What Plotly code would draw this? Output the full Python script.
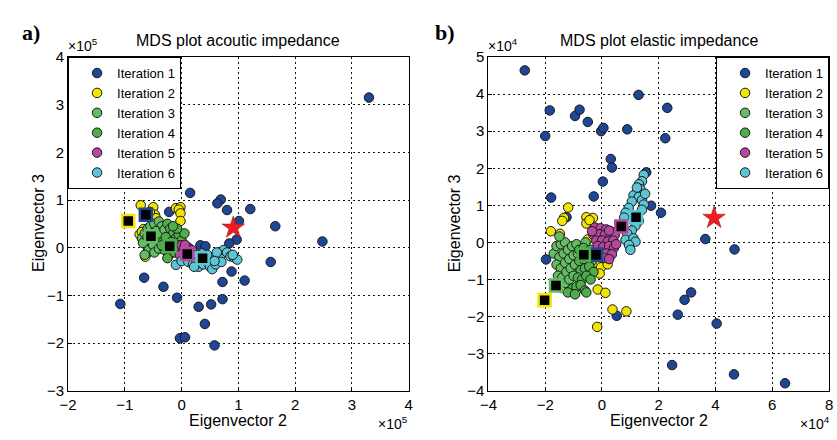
import plotly.graph_objects as go

# ---------------------------------------------------------------------------
# Data: MDS coordinates (Eigenvector 2, Eigenvector 3) per inversion iteration
# Panel a) values are in units of 1e5, panel b) values in units of 1e4
# ---------------------------------------------------------------------------
iterations = ["Iteration 1", "Iteration 2", "Iteration 3", "Iteration 4", "Iteration 5", "Iteration 6"]

# ---- panel a) acoustic impedance (x 1e5) ----
ai_it1_x = [0.15, 0.69, 0.63, 0.80, 1.21, 1.01, 0.97, 0.84, 1.65, 2.48, 3.30, 1.57, 0.88, 1.11, 0.72,
            0.72, 0.52, 0.30, 0.41, 0.58, -0.03, 0.06, -0.08, -0.32, -0.66, -1.08, -0.22, 0.33, 0.42]
ai_it1_y = [1.15, 1.01, 0.93, 0.79, 0.81, 0.56, 0.17, 0.09, 0.45, 0.13, 3.15, -0.30, -0.50, -0.69, -0.72,
            -1.08, -1.19, -1.24, -1.60, -2.05, -1.90, -1.88, -1.05, -0.82, -0.63, -1.18, 0.75, 0.05, 0.03]

ai_it2_x = [-0.72, -0.50, -0.47, -0.52, -0.45, -0.10, -0.02, -0.05, -0.02, -0.02, -0.74, -0.67, -0.70,
            -0.64, -0.60, -0.56]
ai_it2_y = [0.89, 0.85, 0.69, 0.60, 0.62, 0.83, 0.85, 0.80, 0.72, 0.56, 0.28, 0.39, 0.33,
            -0.19, -0.10, 0.75]

ai_it3_x = [-0.70, -0.65, -0.60, -0.55, -0.48, -0.40, -0.35, -0.45, -0.55, -0.62, -0.68, -0.58, -0.50,
            -0.42, -0.38, -0.30, -0.48, -0.65, -0.40, -0.33, -0.52, -0.60]
ai_it3_y = [0.20, 0.30, 0.40, 0.45, 0.50, 0.55, 0.45, 0.35, 0.15, 0.05, 0.10, -0.05, 0.05,
            0.20, 0.30, 0.38, -0.10, -0.15, -0.02, 0.12, 0.30, 0.22]

ai_it4_x = [-0.25, -0.20, -0.15, -0.28, -0.10, -0.05, 0.00, 0.05, -0.30, -0.22, -0.12, -0.05, -0.18,
            -0.35, 0.02, -0.08, -0.25, -0.15]
ai_it4_y = [0.50, 0.40, 0.30, 0.22, 0.20, 0.28, 0.15, 0.30, -0.05, -0.15, -0.10, 0.05, 0.12,
            0.05, -0.02, 0.40, -0.22, 0.45]

ai_it5_x = [-0.05, 0.00, 0.05, 0.02, 0.08, 0.12, 0.15, 0.10, 0.00, -0.03, 0.18, 0.06, 0.13]
ai_it5_y = [-0.05, 0.05, 0.00, -0.12, -0.08, 0.00, -0.15, -0.20, -0.20, -0.15, -0.05, 0.06, -0.25]

ai_it6_x = [-0.10, 0.00, 0.12, 0.20, 0.25, 0.30, 0.38, 0.45, 0.50, 0.54, 0.60, 0.65, 0.70, 0.74,
            0.80, 0.86, 0.92, 0.98, 0.90, 0.55, 0.45, 0.35, 0.28, 0.62, 0.40, 0.22, 0.70, 0.58]
ai_it6_y = [-0.36, -0.28, -0.30, -0.35, -0.25, -0.40, -0.35, -0.30, -0.40, -0.45, -0.35, -0.25, -0.15, -0.05,
            -0.10, -0.18, -0.20, -0.25, -0.15, -0.20, -0.15, -0.12, -0.15, -0.10, -0.25, -0.40, -0.30, -0.28]

# mean position of each iteration (square markers) and the true model (star)
ai_centroid_x = [-0.63, -0.94, -0.54, -0.21, 0.10, 0.37]
ai_centroid_y = [0.69, 0.56, 0.24, 0.03, -0.13, -0.22]
ai_true_x = [0.91]
ai_true_y = [0.42]

# ---- panel b) elastic impedance (x 1e4) ----
ei_it1_x = [-2.72, -1.84, -2.00, -0.95, -0.79, -0.50, -0.03, 0.05, 0.89, 1.29, 2.30, 2.23, 0.31, 0.35,
            1.56, 0.03, -0.29, -1.79, 1.73, 2.08, 3.64, 4.67, -1.97, 3.14, 2.91, 2.67, 0.52, 4.04,
            2.47, 4.65, 6.45, -1.25]
ei_it1_y = [4.64, 3.56, 2.87, 3.41, 3.58, 3.25, 3.00, 3.09, 3.05, 3.98, 3.63, 2.81, 2.25, 2.02,
            1.89, 1.64, 1.24, 1.21, 0.99, 0.80, 0.09, -0.19, -0.46, -1.35, -1.55, -1.95, -1.98, -2.19,
            -3.31, -3.56, -3.80, 0.68]

ei_it2_x = [-1.19, -1.34, -1.40, -1.80, -1.48, -0.55, -0.55, -0.32, -0.44, -0.23, -0.03, -0.08, 0.20,
            -0.15, 0.12, 0.37, 0.86, -0.17, -0.50, -1.42, -0.21]
ei_it2_y = [0.94, 0.66, 0.58, 0.30, 0.23, 0.68, 0.51, 0.66, 0.60, -0.54, -0.67, -0.84, -0.59,
            -1.27, -1.36, -1.81, -1.86, -2.28, 0.08, -1.23, -0.37]

ei_it3_x = [-1.70, -1.60, -1.45, -1.30, -1.50, -1.35, -1.20, -1.05, -0.90, -1.60, -1.45, -1.30, -1.15,
            -1.00, -0.85, -1.55, -1.40, -1.25, -1.10, -0.95, -1.30, -1.15, -1.00, -1.50, -0.58]
ei_it3_y = [-0.30, -0.10, -0.05, 0.00, -0.40, -0.30, -0.20, -0.10, -0.05, -0.60, -0.70, -0.55, -0.45,
            -0.35, -0.30, -0.90, -0.95, -0.80, -0.70, -0.60, -1.10, -1.00, -0.90, 0.16, 0.00]

ei_it4_x = [-0.80, -0.65, -0.50, -0.35, -0.75, -0.60, -0.45, -0.30, -0.85, -0.70, -0.55, -0.40, -1.05,
            -0.90, -0.75, -0.60, -1.20, -0.55, -0.80, -0.65, -0.40, -0.95]
ei_it4_y = [-0.50, -0.45, -0.40, -0.50, -0.75, -0.70, -0.65, -0.80, -0.95, -1.00, -0.90, -1.00, -1.25,
            -1.20, -1.15, -1.30, -1.35, -1.35, -0.20, -0.15, -0.20, -1.40]

ei_it5_x = [-0.25, -0.05, 0.15, 0.30, -0.30, -0.10, 0.10, 0.30, 0.45, -0.20, 0.00, 0.20, 0.40, -0.15,
            0.05, 0.25, 0.42, -0.05, 0.15, 0.35, 0.05, 0.25, -0.35, 0.50, 0.25]
ei_it5_y = [0.40, 0.38, 0.35, 0.30, 0.20, 0.22, 0.20, 0.15, 0.20, 0.05, 0.05, 0.02, 0.05, -0.10,
            -0.12, -0.10, -0.15, -0.28, -0.30, -0.32, -0.42, -0.45, 0.30, -0.05, 0.32]

ei_it6_x = [1.47, 1.41, 1.30, 1.35, 1.23, 1.11, 1.30, 1.41, 1.47, 1.05, 0.94, 0.83, 0.78, 1.41, 1.30,
            1.18, 1.05, 0.89, 0.83, 1.11, 1.18, 0.95, 1.23, 1.52, 1.00]
ei_it6_y = [1.82, 1.65, 1.57, 1.44, 1.36, 1.27, 1.23, 1.14, 1.02, 1.10, 0.93, 0.80, 0.67, 0.88, 0.58,
            0.45, 0.32, 0.24, 0.07, 0.11, 0.02, -0.07, 1.48, 1.31, -0.20]

ei_centroid_x = [-0.21, -2.02, -1.62, -0.64, 0.68, 1.20]
ei_centroid_y = [-0.33, -1.56, -1.16, -0.33, 0.43, 0.68]
ei_true_x = [3.95]
ei_true_y = [0.66]

ai_scale_exp = 5
ei_scale_exp = 4

# ---------------------------------------------------------------------------
colors = ["#1f4597", "#f2e600", "#63bd62", "#4dae4a", "#b6479e", "#5cc6d6"]
FONT = "Liberation Sans, Arial, sans-serif"

ai_sets = [(ai_it1_x, ai_it1_y), (ai_it2_x, ai_it2_y), (ai_it3_x, ai_it3_y),
           (ai_it4_x, ai_it4_y), (ai_it5_x, ai_it5_y), (ai_it6_x, ai_it6_y)]
ei_sets = [(ei_it1_x, ei_it1_y), (ei_it2_x, ei_it2_y), (ei_it3_x, ei_it3_y),
           (ei_it4_x, ei_it4_y), (ei_it5_x, ei_it5_y), (ei_it6_x, ei_it6_y)]

fig = go.Figure()

def add_panel(sets, cx, cy, tx, ty, xa, ya, legend_name):
    for name, col, (xs, ys) in zip(iterations, colors, sets):
        fig.add_trace(go.Scatter(
            x=xs, y=ys, mode="markers", name=name, xaxis=xa, yaxis=ya, legend=legend_name,
            marker=dict(size=9.5, color=col, line=dict(color="#1a1a1a", width=1)),
        ))
    # iteration means: black squares outlined in the iteration colour
    for i, col in enumerate(colors):
        fig.add_trace(go.Scatter(
            x=[cx[i]], y=[cy[i]], mode="markers", showlegend=False, xaxis=xa, yaxis=ya,
            marker=dict(symbol="square", size=12, color="black", line=dict(color=col, width=2.5)),
        ))
    fig.add_trace(go.Scatter(
        x=tx, y=ty, mode="markers", showlegend=False, xaxis=xa, yaxis=ya,
        marker=dict(symbol="star", size=17, color="#ee1c24", line=dict(color="#a01010", width=0.5)),
    ))

add_panel(ai_sets, ai_centroid_x, ai_centroid_y, ai_true_x, ai_true_y, "x", "y", "legend")
add_panel(ei_sets, ei_centroid_x, ei_centroid_y, ei_true_x, ei_true_y, "x2", "y2", "legend2")

W, H = 837, 440
ax_common = dict(
    showline=True, linecolor="black", linewidth=1, mirror=True,
    showgrid=True, gridcolor="#111111", griddash="1.5px,3.5px", gridwidth=1.2,
    zeroline=False, ticks="inside", ticklen=4, tickcolor="black",
    tickfont=dict(family=FONT, size=15, color="black"),
)

dom_y = [(H - 397) / H, (H - 50) / H]
legend_common = dict(yanchor="top", y=dom_y[1], bgcolor="white", bordercolor="black", borderwidth=1,
                     font=dict(family=FONT, size=13), tracegroupgap=0, indentation=8)
fig.update_layout(
    width=W, height=H, margin=dict(l=0, r=0, t=0, b=0),
    paper_bgcolor="white", plot_bgcolor="white",
    font=dict(family=FONT, size=15, color="black"),
    xaxis=dict(domain=[60 / W, 406 / W], range=[-2, 4], dtick=1, anchor="y", **ax_common),
    yaxis=dict(domain=dom_y, range=[-3, 4], dtick=1, anchor="x", **ax_common),
    xaxis2=dict(domain=[487 / W, 833 / W], range=[-4, 8], dtick=2, anchor="y2", **ax_common),
    yaxis2=dict(domain=dom_y, range=[-4, 5], dtick=1, anchor="x2", **ax_common),
    legend=dict(x=60 / W, xanchor="left", **legend_common),
    legend2=dict(x=833 / W, xanchor="right", **legend_common),
)

def label(text, x, y, size=15, angle=0, family=FONT, xanchor="center", yanchor="middle"):
    fig.add_annotation(text=text, x=x / W, y=1 - y / H, xref="paper", yref="paper",
                       showarrow=False, textangle=angle, xanchor=xanchor, yanchor=yanchor,
                       font=dict(family=family, size=size, color="black"))

# panel titles and letters
label("MDS plot acoutic impedance", 233, 33, size=16)
label("MDS plot elastic impedance", 660, 33, size=16)
label("<b>a)</b>", 22, 24, size=22, family="Liberation Serif, Times New Roman, serif")
label("<b>b)</b>", 443, 24, size=22, family="Liberation Serif, Times New Roman, serif")

# axis titles
label("Eigenvector 2", 233, 428, size=16)
label("Eigenvector 3", 30, 223, size=16, angle=-90)
label("Eigenvector 2", 660, 428, size=16)
label("Eigenvector 3", 452, 223, size=16, angle=-90)

# axis multipliers
label(f"×10<sup>{ai_scale_exp}</sup>", 58, 37, size=14, xanchor="left")
label(f"×10<sup>{ai_scale_exp}</sup>", 407, 431, size=14, xanchor="right")
label(f"×10<sup>{ei_scale_exp}</sup>", 485, 37, size=14, xanchor="left")
label(f"×10<sup>{ei_scale_exp}</sup>", 836, 431, size=14, xanchor="right")

fig.write_html("out.html")
